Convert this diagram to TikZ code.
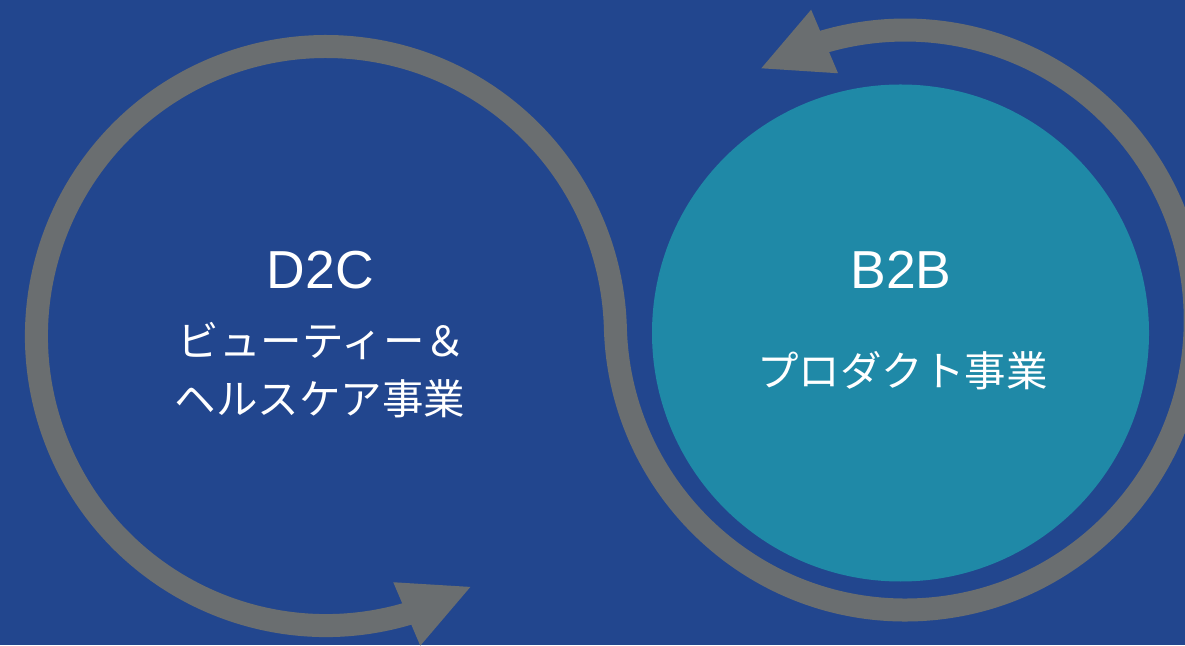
\documentclass[tikz,border=0pt]{standalone}
\usepackage{fontspec}
\setmainfont{Liberation Sans}
\newfontfamily\jp{Noto Sans CJK JP}
\usetikzlibrary{calc}
\definecolor{bgblue}{RGB}{34,70,142}
\definecolor{ringgray}{RGB}{106,110,112}
\definecolor{tealc}{RGB}{31,137,167}
\tikzset{
  ring/.style={draw=ringgray, line width=23pt, line cap=butt},
  head/.style={fill=ringgray},
  title/.style={text=white, font=\fontsize{53.5}{53.5}\selectfont, anchor=base, inner sep=0pt},
  sub/.style={text=white, font=\jp\fontsize{41.5}{41.5}\selectfont, anchor=base, inner sep=0pt},
}
\begin{document}
\begin{tikzpicture}[x=1pt,y=1pt]
\useasboundingbox (0,0) rectangle (1185,645);
\clip (0,0) rectangle (1185,645);
\fill[bgblue] (0,0) rectangle (1185,645);
% centres
\coordinate (LC) at (326,309);
\coordinate (RC) at ($(LC)+(1.58:579.5pt)$);
\coordinate (TC) at (900.5,312);
% teal circle
\fill[tealc] (TC) circle[radius=248.5pt];
% ring path (S shape)
\draw[ring] ($(LC)+(290:289.5pt)$) arc[start angle=290, end angle=1.58, radius=289.5pt]
   arc[start angle=181.58, end angle=470, radius=290pt];
% left arrow head
\coordinate (lt) at ($(LC)+(-60.09:289.5pt)$);
\coordinate (lb) at ($(LC)+(-73.8:289.5pt)$);
\fill[head] (lt) -- ($(lb)!34.5pt!90:(lt)$) -- ($(lb)!34.5pt!-90:(lt)$) -- cycle;
% right arrow head
\coordinate (rt) at ($(RC)+(119.76:290pt)$);
\coordinate (rb) at ($(RC)+(106.15:290pt)$);
\fill[head] (rt) -- ($(rb)!34.5pt!90:(rt)$) -- ($(rb)!34.5pt!-90:(rt)$) -- cycle;
% texts
\node[title] (d2c) at (320.5,356) {D2C};
\node[sub] (d2c1) at (322,288) {ビューティー＆};
\node[sub] (d2c2) at (320,230) {ヘルスケア事業};
\node[title] (b2b) at (901,356) {B2B};
\node[sub] (b2b1) at (902.5,258) {プロダクト事業};
\end{tikzpicture}
\end{document}
